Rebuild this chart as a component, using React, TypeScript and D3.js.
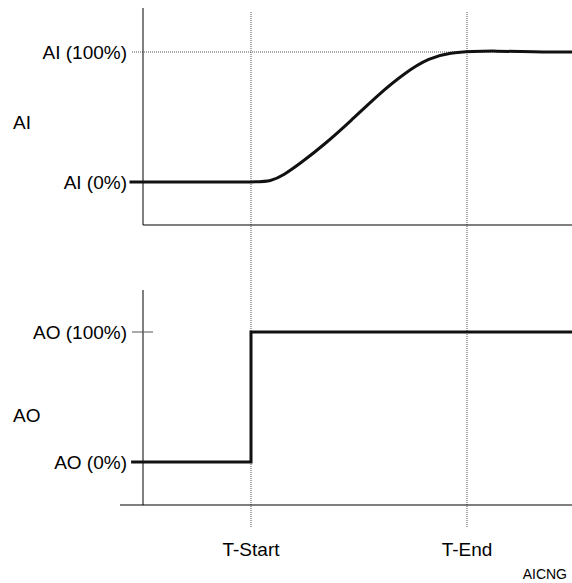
import React from "react";
import * as d3 from "d3";

// time units: T-Start = 2, T-End = 6
const aiTimes = [-0.25, 1.0, 2.15, 2.35, 2.6, 2.95, 3.35, 3.85, 4.35, 4.85, 5.3, 5.7, 6.1, 6.5, 7.2, 8.1, 8.2];
const aiValues = [0, 0, 0, 0.5, 5, 15.5, 28.5, 47, 67, 84, 95.5, 99.5, 100.4, 100.9, 100, 100, 100];
const aoTimes = [-0.22, 2, 8.1];
const aoValues = [0, 100, 100];
const markerTimes = [2, 6];
const markerLabels = ["T-Start", "T-End"];
const aiTickLabels = ["AI (0%)", "AI (100%)"];
const aoTickLabels = ["AO (0%)", "AO (100%)"];
const tickValues = [0, 100];

const W = 572;
const H = 583;
const FONT = "'Liberation Sans', Arial, Helvetica, sans-serif";

export default function App() {
  const x = d3.scaleLinear().domain([0, 8]).range([143, 575]);
  const yAI = d3.scaleLinear().domain([0, 100]).range([182, 52]);
  const yAO = d3.scaleLinear().domain([0, 100]).range([462, 332]);

  const aiLine = d3
    .line<number>()
    .x((_, i) => x(aiTimes[i]))
    .y((d) => yAI(d))
    .curve(d3.curveBasis)(aiValues) as string;

  const aoLine = d3
    .line<number>()
    .x((_, i) => x(aoTimes[i]))
    .y((d) => yAO(d))
    .curve(d3.curveStepAfter)(aoValues) as string;

  const dotted = { stroke: "#555", strokeWidth: 1, strokeDasharray: "1,1" };

  return (
    <svg
      width={W}
      height={H}
      style={{ position: "absolute", left: 0, top: 0, background: "#fff" }}
      fontFamily={FONT}
    >
      <rect x={0} y={0} width={W} height={H} fill="#fff" />
      {markerTimes.map((t, i) => (
        <line key={"m" + i} x1={x(t)} x2={x(t)} y1={12} y2={528} {...dotted} />
      ))}
      <line x1={132} x2={W} y1={yAI(100)} y2={yAI(100)} {...dotted} />

      <line x1={143} x2={143} y1={8} y2={225} stroke="#000" strokeWidth={1} />
      <line x1={143} x2={W} y1={225} y2={225} stroke="#000" strokeWidth={1} />
      <line x1={143} x2={143} y1={290} y2={505} stroke="#000" strokeWidth={1} />
      <line x1={120} x2={W} y1={505} y2={505} stroke="#000" strokeWidth={1} />
      <line x1={132} x2={153} y1={yAO(100)} y2={yAO(100)} stroke="#555" strokeWidth={1} />

      <path d={aiLine} fill="none" stroke="#111" strokeWidth={3} />
      <path d={aoLine} fill="none" stroke="#111" strokeWidth={3} />

      {tickValues.map((v, i) => (
        <text key={"ai" + i} x={127} y={yAI(v)} dy="0.35em" textAnchor="end" fontSize={19} fill="#000">
          {aiTickLabels[i]}
        </text>
      ))}
      {tickValues.map((v, i) => (
        <text key={"ao" + i} x={127} y={yAO(v)} dy="0.35em" textAnchor="end" fontSize={19} fill="#000">
          {aoTickLabels[i]}
        </text>
      ))}
      <text x={13} y={122} dy="0.35em" fontSize={19} fill="#000">AI</text>
      <text x={13} y={415} dy="0.35em" fontSize={19} fill="#000">AO</text>

      {markerTimes.map((t, i) => (
        <text key={"ml" + i} x={x(t)} y={549} dy="0.35em" textAnchor="middle" fontSize={19} fill="#000">
          {markerLabels[i]}
        </text>
      ))}
      <text x={567} y={574} dy="0.35em" textAnchor="end" fontSize={14} fill="#000">AICNG</text>
    </svg>
  );
}
